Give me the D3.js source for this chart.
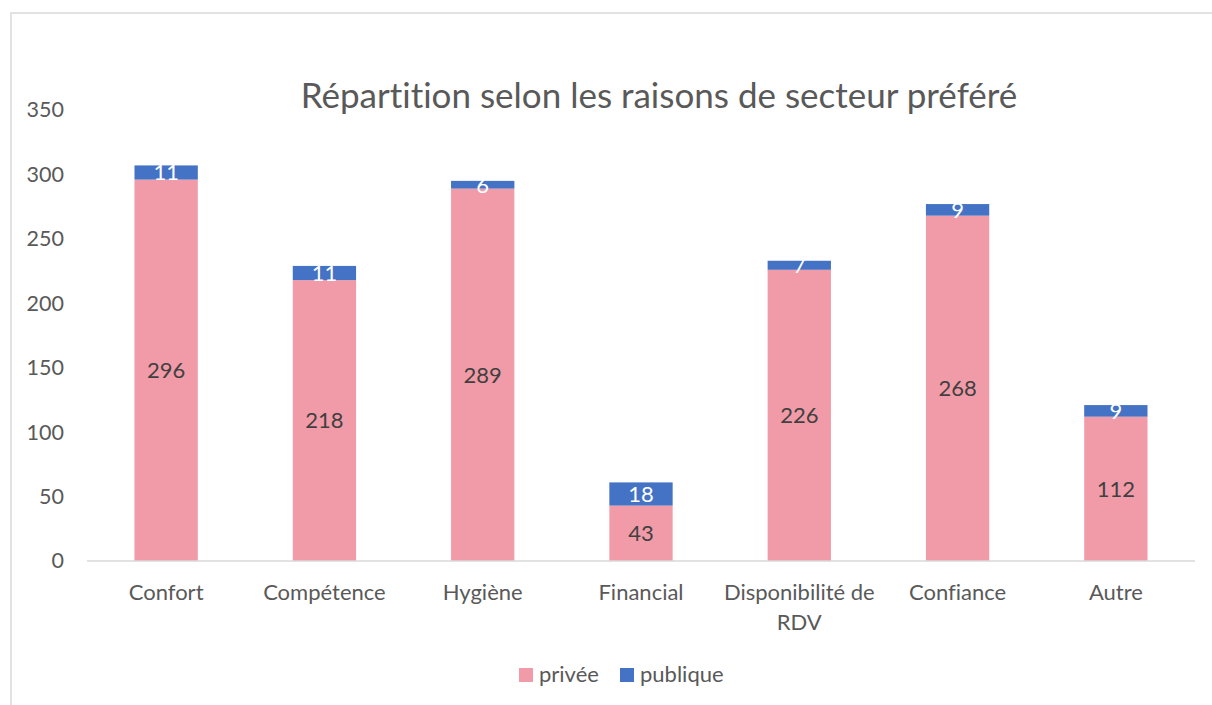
<!DOCTYPE html>
<html>
<head>
<meta charset="utf-8">
<script src="https://cdn.jsdelivr.net/npm/d3@7"></script>
<style>
  body { margin: 0; background: #fff; }
  svg { display: block; font-family: Lato, "Open Sans", sans-serif; font-variant-ligatures: none; }
</style>
</head>
<body>
<svg id="chart" width="1212" height="705"></svg>
<script>
// Reasons for preferring a sector, split private / public
const categories = ["Confort", "Compétence", "Hygiène", "Financial", "Disponibilité de RDV", "Confiance", "Autre"];
const privee = [296, 218, 289, 43, 226, 268, 112];
const publique = [11, 11, 6, 18, 7, 9, 9];
const yTicks = [0, 50, 100, 150, 200, 250, 300, 350];
const seriesNames = ["privée", "publique"];
const colors = ["#F29BA8", "#4472C4"];

const svg = d3.select("#chart");
const margin = { left: 87, right: 1195, top: 110, bottom: 561 };

// outer chart frame
svg.append("rect")
  .attr("x", 11).attr("y", 13)
  .attr("width", 1240).attr("height", 760)
  .attr("fill", "none").attr("stroke", "#D9D9D9").attr("stroke-width", 1.5);

const x = d3.scaleBand().domain(categories).range([margin.left, margin.right]).paddingInner(0.6).paddingOuter(0.3);
const y = d3.scaleLinear().domain([0, 350]).range([margin.bottom, margin.top]);

// title
svg.append("text")
  .attr("x", 659).attr("y", 108)
  .attr("text-anchor", "middle")
  .attr("font-size", 35).attr("fill", "#595959")
  .text("Répartition selon les raisons de secteur préféré");

// y axis labels
const yAxis = d3.axisLeft(y).tickValues(yTicks).tickSize(0).tickPadding(0);
const gy = svg.append("g").attr("transform", `translate(64,0)`).call(yAxis);
gy.select(".domain").remove();
gy.selectAll("text").attr("font-size", 21.5).attr("fill", "#595959")
  .attr("font-family", "Lato, 'Open Sans', sans-serif");

// stacked bars
const stack = d3.stack().keys([0, 1]).value((d, k) => d[k]);
const rows = categories.map((c, i) => Object.assign([privee[i], publique[i]], { cat: c }));
const layers = stack(rows);

layers.forEach((layer, li) => {
  svg.append("g").selectAll("rect")
    .data(layer)
    .join("rect")
    .attr("x", d => x(d.data.cat))
    .attr("width", x.bandwidth())
    .attr("y", d => y(d[1]))
    .attr("height", d => y(d[0]) - y(d[1]))
    .attr("fill", colors[li]);
});

// baseline
svg.append("line")
  .attr("x1", margin.left).attr("x2", margin.right)
  .attr("y1", y(0)).attr("y2", y(0))
  .attr("stroke", "#D9D9D9").attr("stroke-width", 1.5);

// value labels
layers.forEach((layer, li) => {
  svg.append("g").selectAll("text")
    .data(layer)
    .join("text")
    .attr("x", d => x(d.data.cat) + x.bandwidth() / 2)
    .attr("y", d => (y(d[0]) + y(d[1])) / 2)
    .attr("dy", "0.36em")
    .attr("text-anchor", "middle")
    .attr("font-size", 22)
    .attr("fill", li === 0 ? "#404040" : "#FFFFFF")
    .text(d => d.data[li]);
});

// x axis labels (wrapped)
const xAxis = d3.axisBottom(x).tickSize(0).tickPadding(0);
const gx = svg.append("g").attr("transform", `translate(0,${y(0)})`).call(xAxis);
gx.select(".domain").remove();
gx.selectAll("text").each(function(d) {
  const t = d3.select(this);
  t.text(null).attr("y", 0).attr("dy", null)
    .attr("font-size", 22).attr("fill", "#595959")
    .attr("font-family", "Lato, 'Open Sans', sans-serif");
  const lines = d === "Disponibilité de RDV" ? ["Disponibilité de", "RDV"] : [d];
  lines.forEach((ln, i) => {
    t.append("tspan").attr("x", 0).attr("y", 39 + i * 30).text(ln);
  });
});

// legend
const legend = svg.append("g");
const legendItems = [{ x: 519 }, { x: 620 }];
seriesNames.forEach((n, i) => {
  const g = legend.append("g").attr("transform", `translate(${legendItems[i].x},668)`);
  g.append("rect").attr("width", 14).attr("height", 14).attr("fill", colors[i]);
  g.append("text").attr("x", 20).attr("y", 14).attr("font-size", 22)
    .attr("fill", "#595959").text(n);
});
</script>
</body>
</html>
